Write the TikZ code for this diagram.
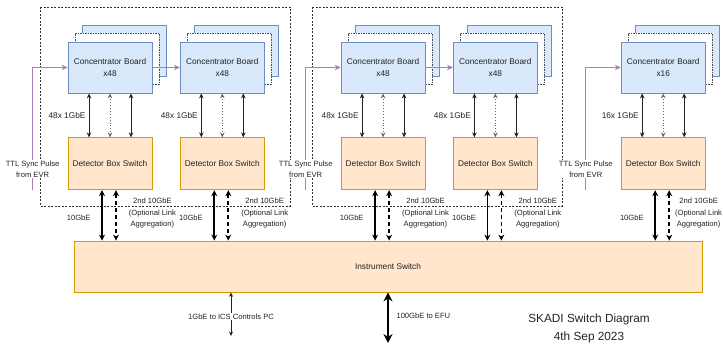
\documentclass[tikz,border=0pt]{standalone}
\usepackage{fontspec}
\setmainfont{Liberation Sans}
\usetikzlibrary{arrows.meta, positioning, shadows}

\definecolor{cbfill}{HTML}{DAE8FC}
\definecolor{cbline}{HTML}{6C8EBF}
\definecolor{swfill}{HTML}{FFE6CC}
\definecolor{swline}{HTML}{D79B00}
\definecolor{syncline}{HTML}{A680B8}
\definecolor{ink}{HTML}{222222}

\begin{document}
\begin{tikzpicture}[
    x=1pt, y=-1pt,
    every node/.style={font=\fontsize{8.3}{11.5}\selectfont, text=ink},
    board/.style={draw=cbline, fill=cbfill, line width=0.8pt, minimum width=84pt, minimum height=51pt,
      align=center, font=\fontsize{8.3}{12.5}\selectfont,
      copy shadow={shadow xshift=14pt, shadow yshift=17pt, draw=cbline, fill=cbfill, line width=0.8pt},
      copy shadow={shadow xshift=7pt, shadow yshift=8.5pt, draw=black!70, fill=white,
        dash pattern=on 1.5pt off 1pt, line width=0.8pt}},
    dbswitch/.style={draw=swline, fill=swfill, line width=0.8pt, minimum width=84pt, minimum height=52pt},
    group/.style={draw=black!80, dash pattern=on 2pt off 1.5pt, line width=0.7pt},
    sync/.style={draw=syncline, line width=1.2pt, -{Stealth[length=6pt,width=5.5pt]}},
    link/.style={draw=ink, line width=0.9pt, >={Stealth[length=5pt,width=4.5pt]}, <->},
    uplink/.style={draw=black, line width=1.8pt, >={Stealth[length=6pt,width=6pt]}, <->},
    small/.style={font=\fontsize{7.6}{11.5}\selectfont},
    tag/.style={fill=white, inner sep=1pt, align=center, font=\fontsize{7.6}{10.5}\selectfont}
  ]

  \useasboundingbox (0,0) rectangle (723,344);

  % detector groups
  \draw[group] (40,7) rectangle (290,206);
  \draw[group] (312,7) rectangle (562,206);

  % concentrator boards
  \node[board] (cb1) at (110,67.5) {Concentrator Board\\x48};
  \node[board, right=27.5pt of cb1] (cb2) {Concentrator Board\\x48};
  \node[board, right=76pt of cb2] (cb3) {Concentrator Board\\x48};
  \node[board, right=27.5pt of cb3] (cb4) {Concentrator Board\\x48};
  \node[board, right=83pt of cb4] (cb5) {Concentrator Board\\x16};

  % switches
  \node[dbswitch, below=44pt of cb1] (dbs1) {Detector Box Switch};
  \node[dbswitch, below=44pt of cb2] (dbs2) {Detector Box Switch};
  \node[dbswitch, below=44pt of cb3] (dbs3) {Detector Box Switch};
  \node[dbswitch, below=44pt of cb4] (dbs4) {Detector Box Switch};
  \node[dbswitch, below=44pt of cb5] (dbs5) {Detector Box Switch};
  \node[dbswitch, minimum width=628pt, minimum height=51pt] (isw) at (388,266.5) {Instrument Switch};

  % links
  \foreach \i/\cnt/\dx in {1/48/0, 2/48/0, 3/48/0, 4/48/0, 5/16/-7} {
    \draw[link] ([xshift=-21pt]cb\i.south) -- ([xshift=-21pt]dbs\i.north);
    \draw[link, draw=black!60, dotted] (cb\i.south) -- (dbs\i.north);
    \draw[link] ([xshift=21pt]cb\i.south) -- ([xshift=21pt]dbs\i.north);
    \node[anchor=east] (gbe\i) at ([xshift=-21pt,yshift=-22pt]cb\i.south) {\cnt x 1GbE};
    \draw[uplink] ([xshift=-8pt]dbs\i.south) -- ([xshift=-8pt]dbs\i.south |- isw.north);
    \draw[uplink, dash pattern=on 4pt off 3pt] ([xshift=6pt]dbs\i.south) -- ([xshift=6pt]dbs\i.south |- isw.north);
    \node[small, anchor=east] (tengbe\i) at ([xshift=-16pt,yshift=-28pt]dbs\i.south) {10GbE};
    \node[small, align=center] (lag\i) at ([xshift=\dx pt,yshift=-23pt]dbs\i.south east) {2nd 10GbE\\(Optional Link\\Aggregation)};
  }

  % sync pulse
  \foreach \i in {1,3,5} {
    \coordinate (evr\i) at ([xshift=-35pt]dbs\i.south west);
    \draw[sync] (evr\i) |- (cb\i.west);
    \node[tag] (ttl\i) at ([yshift=21pt]evr\i) {TTL Sync Pulse\\from EVR};
  }
  \draw[sync] (cb1.east) -- (cb2.west);
  \draw[sync] (cb3.east) -- (cb4.west);

  % uplinks out of the instrument switch
  \coordinate (ics) at (231,336);
  \coordinate (efu) at (388,343);
  \draw[link, line width=0.7pt, >={Stealth[length=4.5pt,width=4pt]}] (isw.south -| ics) -- (ics)
    node[tag, pos=0.55] (icslabel) {1GbE to ICS Controls PC};
  \draw[uplink, line width=2.4pt, >={Stealth[length=9pt,width=9pt]}] (isw.south) -- (efu)
    node[small, pos=0.47, anchor=west, xshift=4pt] (efulabel) {100GbE to EFU};

  \node[align=center, font=\fontsize{11.8}{18}\selectfont] (title) at (589,328) {SKADI Switch Diagram\\4th Sep 2023};

\end{tikzpicture}
\end{document}
